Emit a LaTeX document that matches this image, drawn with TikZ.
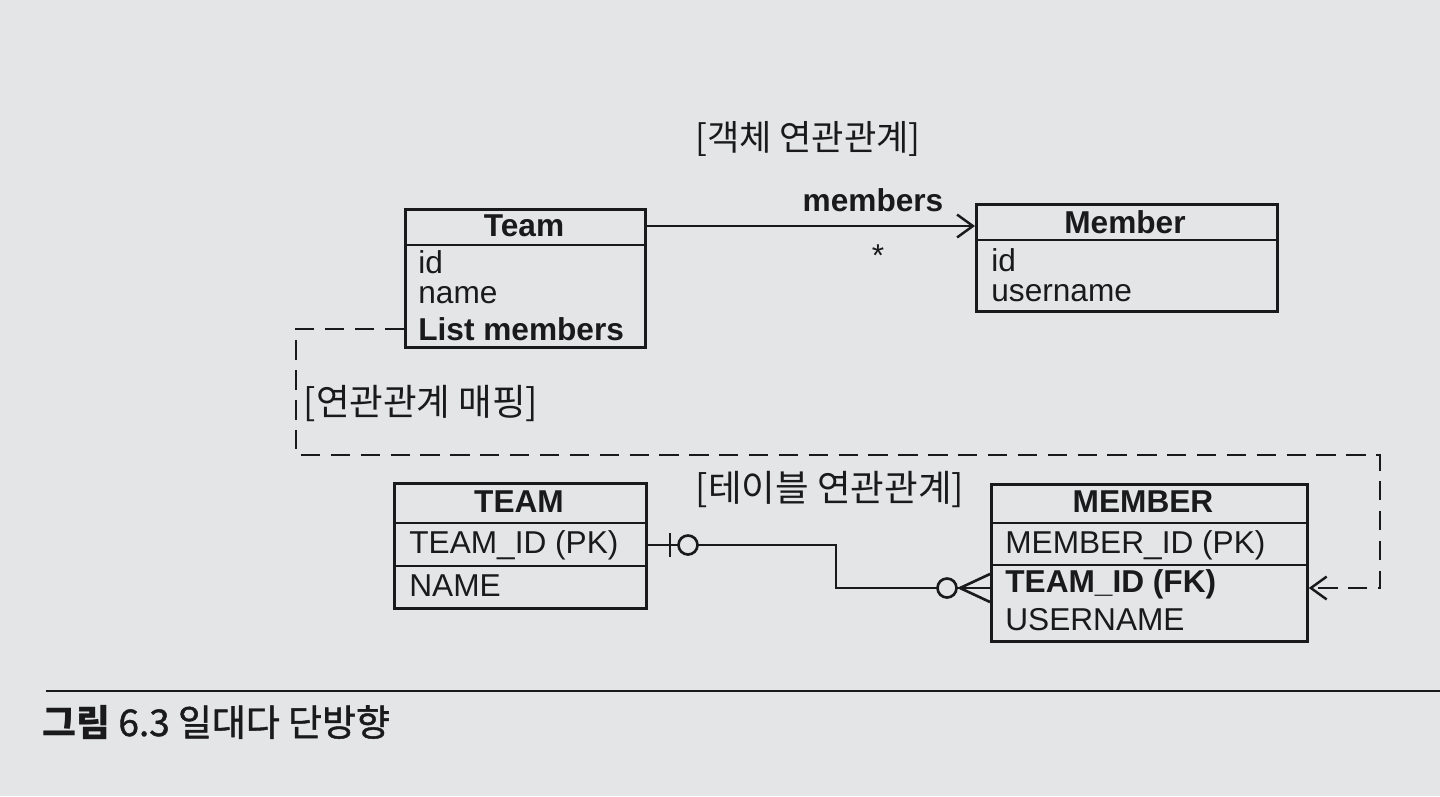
\documentclass[tikz,border=0pt]{standalone}
\usepackage{fontspec}
\setmainfont{Liberation Sans}
\newfontfamily\kr{Noto Sans CJK KR}
\newfontfamily\krmed[FakeBold=1.2]{Noto Sans CJK KR}
\usetikzlibrary{arrows.meta}
\definecolor{paper}{RGB}{228,229,231}
\definecolor{ink}{RGB}{26,26,28}
\tikzset{
  px/.style={x=0.02cm,y=-0.02cm},
  box/.style={draw=ink,line width=1.6pt,fill=paper,anchor=north west,inner sep=0pt},
  sep/.style={draw=ink,line width=1.4pt},
  attr/.style={anchor=west,inner sep=0pt,text=ink,font=\fontsize{18}{20}\selectfont},
  hdr/.style={inner sep=0pt,text=ink,font=\fontsize{18}{20}\selectfont\bfseries},
  krlabel/.style={inner sep=0pt,text=ink,font=\kr\fontsize{20.8}{22}\selectfont},
  conn/.style={draw=ink,line width=1.5pt},
  dashconn/.style={draw=ink,line width=1.4pt,dash pattern=on 11pt off 6pt},
  openarrow/.style={-{Straight Barb[length=9pt,width=13pt,line width=1.4pt]}},
  ercircle/.style={circle,draw=ink,line width=1.5pt,fill=paper,minimum size=0.38cm,inner sep=0pt}
}
\begin{document}
\begin{tikzpicture}[px]
\fill[paper] (0,0) rectangle (1440,796);
\useasboundingbox (0,0) rectangle (1440,796);

% titles
\node[krlabel,font=\kr\fontsize{20}{22}\selectfont] (t1) at (808,139) {[객체 연관관계]};
\node[krlabel] (t2) at (421,403) {[연관관계 매핑]};
\node[krlabel] (t3) at (830,489) {[테이블 연관관계]};

% Team (object)
\node[box,minimum width=4.8cm,minimum height=2.76cm] (Team) at (404,208) {};
\draw[sep] (404,245) -- (644,245);
\node[hdr] (TeamH) at (524,226) {Team};
\node[attr] (Tid) at (418,262) {id};
\node[attr] (Tname) at (418,295) {name};
\node[attr,font=\fontsize{18}{20}\selectfont\bfseries] (Tlist) at (418,329) {List members};

% Member (object)
\node[box,minimum width=6.02cm,minimum height=2.14cm] (Member) at (975,203) {};
\draw[sep] (975,240) -- (1276,240);
\node[hdr] (MemberH) at (1125,222) {Member};
\node[attr] (Mid) at (991,260) {id};
\node[attr] (Muser) at (991,293) {username};

% association
\coordinate (assocY) at (700,226);
\draw[conn,openarrow] (Team.east |- assocY) -- (Member.west |- assocY);
\node[hdr] (lblmembers) at (873,200) {members};
\node[inner sep=0pt,text=ink,font=\fontsize{18}{20}\selectfont] (lblstar) at (878,256) {*};

% TEAM (table)
\node[box,minimum width=5.04cm,minimum height=2.5cm] (TEAM) at (393,482) {};
\draw[sep] (393,523) -- (645,523);
\draw[sep] (393,566) -- (645,566);
\node[hdr] (TEAMH) at (519,502) {TEAM};
\node[attr] (TTid) at (409,545) {TEAM\_ID (PK)};
\node[attr] (TTname) at (409,586) {NAME};

% MEMBER (table)
\node[box,minimum width=6.32cm,minimum height=3.14cm] (MEMBER) at (990,483) {};
\draw[sep] (990,523) -- (1306,523);
\draw[sep] (990,565) -- (1306,565);
\node[hdr] (MEMBERH) at (1143,502) {MEMBER};
\node[attr] (MMid) at (1005,545) {MEMBER\_ID (PK)};
\node[attr,font=\fontsize{18}{20}\selectfont\bfseries] (MTid) at (1005,584) {TEAM\_ID (FK)};
\node[attr] (MUser) at (1005,620) {USERNAME};

% ER relation
\coordinate (erA) at (700,545);
\coordinate (erB) at (700,588);
\coordinate (bend1) at (836,545);
\coordinate (bend2) at (836,588);
\draw[conn] (TEAM.east |- erA) -- (bend1) -- (bend2) -- (MEMBER.west |- erB);
\draw[conn] (670,533) -- (670,557);
\node[ercircle] (c1) at (688,545) {};
\node[ercircle] (c2) at (947,588) {};
\coordinate (crow) at (960,588);
\draw[conn] (crow) -- (MEMBER.west |- 0,574);
\draw[conn] (crow) -- (MEMBER.west |- 0,602);

% mapping dashed line
\coordinate (d1) at (296,329);
\coordinate (d2) at (296,455);
\coordinate (d3) at (1380,455);
\coordinate (d4) at (1380,588);
\draw[dashconn,openarrow] (Team.west |- Tlist) -- (d1) -- (d2) -- (d3) -- (d4) -- (MEMBER.east |- erB);

% caption
\draw[draw=ink,line width=1.2pt] (46,691) -- (1440,691);
\node[anchor=west,inner sep=0pt,text=ink,font=\krmed\fontsize{21}{23}\selectfont] (cap) at (42,722) {{\kr\bfseries 그림} 6.3 일대다 단방향};
\end{tikzpicture}
\end{document}
